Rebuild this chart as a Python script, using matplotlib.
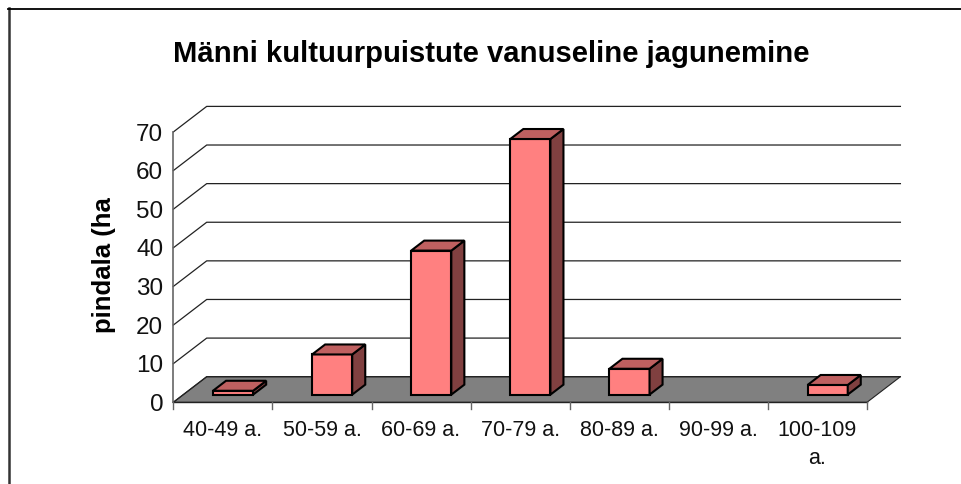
import matplotlib
matplotlib.use('Agg')
import matplotlib.pyplot as plt
from matplotlib.lines import Line2D
from matplotlib.patches import Polygon

plt.rcParams['font.family'] = ['Liberation Sans', 'DejaVu Sans']

W, H = 961, 485

title = 'Männi kultuurpuistute vanuseline jagunemine'
y_label = 'pindala (ha'
categories = ['40-49 a.', '50-59 a.', '60-69 a.', '70-79 a.', '80-89 a.',
              '90-99 a.', '100-109\na.']
values = [1.0, 10.4, 37.3, 66.2, 6.7, 0, 2.5]
y_ticks = [0, 10, 20, 30, 40, 50, 60, 70]

# depth of the fake 3d box, in data units
DEPTH_X = 0.337
DEPTH_Y = 6.63
BAR_W = 0.405
BAR_NEAR = 0.30
BAR_FAR = 0.69


def proj(x, y, d=0.0):
    return x + d * DEPTH_X, y + d * DEPTH_Y


fig = plt.figure(figsize=(W / 100, H / 100), dpi=100)
left, right, top, bottom = 173.3, 867, 133, 403.3
ax = fig.add_axes([left / W, 1 - bottom / H, (right - left) / W, (bottom - top) / H])
ax.set_xlim(0, len(categories))
ax.set_ylim(0, 70)
ax.axis('off')

# chart frame, only left and top edges are inside the crop
fig.add_artist(Line2D([9 / W, 9 / W], [0, 1 - 9 / H], color='#333333', lw=1.8))
fig.add_artist(Line2D([8 / W, 1], [1 - 9.5 / H, 1 - 9.5 / H], color='black', lw=1.3))

n = len(categories)

# floor
ax.add_patch(Polygon([proj(0, 0), proj(n, 0), proj(n, 0, 1), proj(0, 0, 1)],
                     fc='#808080', ec='#222222', lw=0.8, clip_on=False, zorder=1))

# gridlines on the wall
for t in y_ticks:
    ax.plot(*zip(proj(0, t), proj(0, t, 1), proj(n, t, 1)), color='#222222', lw=0.9,
            clip_on=False, zorder=1)

# axes
ax.plot([0, 0], [0, 70], color='#666666', lw=1.2, clip_on=False, zorder=2)
ax.plot([0, n], [0, 0], color='#222222', lw=1.0, clip_on=False, zorder=2)
for i in range(n + 1):
    ax.plot([i, i], [0, -1.8], color='#666666', lw=1.0, clip_on=False, zorder=2)

for t in y_ticks:
    ax.annotate(str(t), (0, t), xytext=(-10, -1.5), textcoords='offset pixels', ha='right',
                va='center', fontsize=17.5, color='#111111')

for i, lab in enumerate(categories):
    ax.annotate(lab, (i + 0.5, 0), xytext=(0, -17), textcoords='offset pixels', ha='center',
                va='top', fontsize=15.5, color='#111111', linespacing=1.45)

# bars
for i, v in enumerate(values):
    if v == 0:
        continue
    x0 = i + 0.5 - BAR_W / 2 + 0.002
    x1 = x0 + BAR_W
    front = [proj(x0, 0, BAR_NEAR), proj(x1, 0, BAR_NEAR), proj(x1, v, BAR_NEAR), proj(x0, v, BAR_NEAR)]
    side = [proj(x1, 0, BAR_NEAR), proj(x1, 0, BAR_FAR), proj(x1, v, BAR_FAR), proj(x1, v, BAR_NEAR)]
    cap = [proj(x0, v, BAR_NEAR), proj(x1, v, BAR_NEAR), proj(x1, v, BAR_FAR), proj(x0, v, BAR_FAR)]
    for pts, col in [(front, '#FF8080'), (side, '#804040'), (cap, '#BF6060')]:
        ax.add_patch(Polygon(pts, fc=col, ec='black', lw=1.5, joinstyle='miter',
                             clip_on=False, zorder=3))

fig.text(491 / W, 1 - 54 / H, title, ha='center', va='center', fontsize=21.1, fontweight='bold')
fig.text(104 / W, 1 - 265 / H, y_label, ha='center', va='center', rotation=90,
         fontsize=18.5, fontweight='bold')

fig.savefig('out.png', dpi=100)
